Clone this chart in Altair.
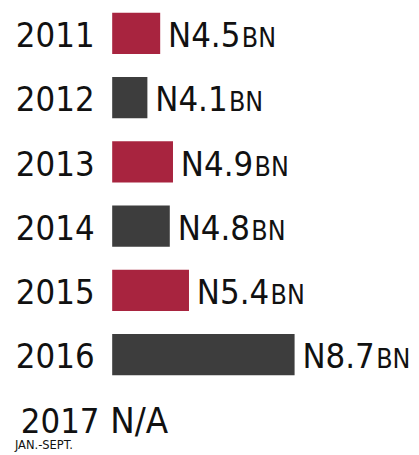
import altair as alt
import pandas as pd

years = ["2011", "2012", "2013", "2014", "2015", "2016", "2017"]
values = [4.5, 4.1, 4.9, 4.8, 5.4, 8.7, None]
sublabels = ["", "", "", "", "", "", "JAN.-SEPT."]
axis_start = 3
axis_end = 12

df = pd.DataFrame({
    "year": years,
    "value": values,
    "sub": sublabels,
    "parity": [i % 2 for i in range(len(years))],
})
df["label"] = [f"N{v:.1f}" if pd.notna(v) else "N/A" for v in values]

FONT = "DejaVu Sans Condensed"
base = alt.Chart(df)
y = alt.Y("year:N", sort=years, axis=None,
          scale=alt.Scale(paddingInner=0.357, paddingOuter=0.015))
xs = alt.Scale(domain=[axis_start, axis_end], range=[106, 399], nice=False, zero=False)

valid = "isValid(datum.value)"
missing = "!isValid(datum.value)"

bars = base.transform_filter(valid).mark_bar().encode(
    x=alt.X("value:Q", scale=xs, axis=None),
    x2=alt.datum(axis_start),
    y=y,
    color=alt.Color("parity:N", scale=alt.Scale(domain=[0, 1], range=["#A8243F", "#3D3D3D"]), legend=None),
)

vals = base.transform_filter(valid).mark_text(
    align="left", baseline="alphabetic", dx=8, dy=14, font=FONT, fontSize=35, color="#111111"
).encode(x=alt.X("value:Q", scale=xs), y=y, text="label:N")

bn = base.transform_filter(valid).mark_text(
    align="left", baseline="alphabetic", dx=83, dy=14, font=FONT, fontSize=27, color="#111111"
).encode(x=alt.X("value:Q", scale=xs), y=y, text=alt.value("BN"))

na = base.transform_filter(missing).mark_text(
    align="left", baseline="alphabetic", dx=-2, dy=14, font=FONT, fontSize=37, color="#111111"
).encode(x=alt.datum(axis_start, scale=xs), y=y, text="label:N")

yr = base.transform_filter(valid).mark_text(
    align="left", baseline="alphabetic", dy=14, font=FONT, fontSize=35, color="#111111"
).encode(x=alt.value(8), y=y, text="year:N")

yr2 = base.transform_filter(missing).mark_text(
    align="left", baseline="alphabetic", dy=14, font=FONT, fontSize=35, color="#111111"
).encode(x=alt.value(13), y=y, text="year:N")

sub = base.transform_filter(missing).mark_text(
    align="left", baseline="alphabetic", dy=31, font=FONT, fontSize=13, color="#111111"
).encode(x=alt.value(7), y=y, text="sub:N")

chart = alt.layer(bars, vals, bn, na, yr, yr2, sub).properties(
    width=403, height=436, padding=0
).configure_view(stroke=None)

chart.save("out.html", embed_options={"renderer": "svg", "actions": False})
